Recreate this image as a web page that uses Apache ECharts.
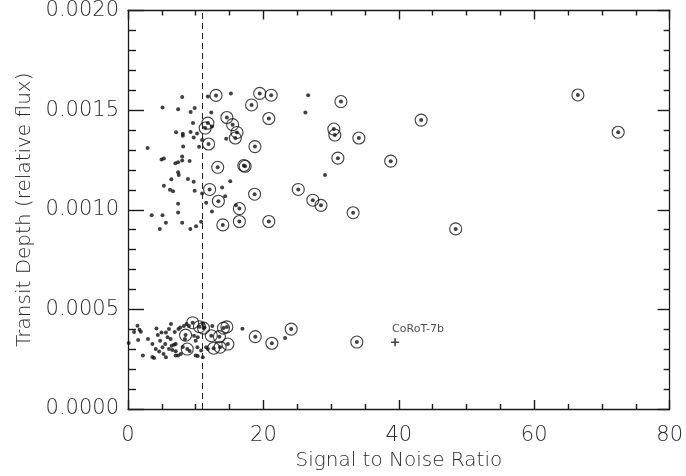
<!DOCTYPE html>
<html>
<head>
<meta charset="utf-8">
<script src="https://cdn.jsdelivr.net/npm/echarts@6/dist/echarts.min.js"></script>
<style>html,body{margin:0;padding:0;background:#fff}#c{width:686px;height:476px}</style>
</head>
<body>
<div id="c"></div>
<script>
// x: Signal to Noise Ratio, y: Transit Depth (relative flux)
const upperCandidates = [[2.9,0.00131],[3.5,0.000972],[4.7,0.000904],[5.1,0.001513],[4.95,0.001252],[5.3,0.001257],[5.1,0.000972],[5.3,0.00112],[5.6,0.000935],[6.2,0.0011],[6.65,0.001093],[6.4,0.001153],[7.0,0.001233],[7.4,0.001238],[7.1,0.001389],[7.4,0.001505],[7.4,0.001188],[7.5,0.001174],[7.4,0.00103],[7.4,0.000986],[8.0,0.001566],[8.1,0.001382],[8.1,0.001372],[8.0,0.001267],[8.0,0.001247],[8.15,0.001317],[8.0,0.000935],[9.1,0.001245],[9.25,0.00149],[9.85,0.001511],[9.25,0.00139],[9.7,0.001362],[10.2,0.001383],[9.6,0.001435],[8.85,0.001154],[9.7,0.001141],[9.85,0.001095],[9.2,0.000904],[10.05,0.000917],[10.8,0.00094],[10.5,0.001316],[10.95,0.00135],[10.95,0.001082],[11.8,0.001568],[15.2,0.001584],[12.3,0.001488],[12.4,0.001418],[14.5,0.001356],[15.1,0.001143],[13.9,0.001112],[14.35,0.001068],[11.55,0.001035],[15.95,0.001023],[12.4,0.000991],[26.6,0.001575],[26.2,0.001488],[29.1,0.001174]];
const lowerCandidates = [[0.1,0.000331],[1.4,0.000418],[1.7,0.000398],[1.9,0.000388],[1.5,0.000346],[2.2,0.000268],[3.6,0.000261],[3.85,0.000256],[4.2,0.000404],[4.75,0.000343],[5.1,0.00031],[5.5,0.000326],[4.6,0.000288],[5.25,0.000276],[5.6,0.000384],[6.05,0.000401],[5.85,0.00036],[6.3,0.000351],[6.45,0.000318],[6.8,0.000323],[7.05,0.000326],[6.05,0.000301],[6.55,0.000296],[7.05,0.00029],[7.05,0.000268],[7.4,0.000268],[7.8,0.000276],[7.45,0.000401],[7.7,0.000409],[8.25,0.000417],[8.65,0.000426],[9.0,0.000417],[6.35,0.000426],[5.6,0.00026],[4.1,0.000301],[3.6,0.000326],[9.75,0.000368],[10.0,0.000343],[10.25,0.00031],[10.0,0.000268],[10.3,0.000266],[11.05,0.000426],[11.3,0.000409],[12.45,0.000417],[16.9,0.000403],[23.2,0.000356],[11.55,0.00031],[11.8,0.000301],[11.05,0.00026],[10.8,0.000293],[10.3,0.00036],[4.95,0.000384],[0.9,0.000386],[2.95,0.000351],[4.4,0.000371],[8.4,0.000351],[9.1,0.000291],[8.1,0.000311],[6.9,0.000386]];
const upperDetections = [[13.0,0.001574],[19.45,0.001584],[21.15,0.001575],[18.25,0.001526],[31.45,0.001543],[14.6,0.001463],[20.8,0.001458],[43.3,0.00145],[11.8,0.001435],[11.4,0.00141],[15.45,0.001427],[30.4,0.001405],[30.55,0.001375],[16.1,0.001388],[15.85,0.00136],[34.1,0.00136],[11.9,0.00133],[18.75,0.001317],[31.0,0.001259],[38.8,0.001244],[13.25,0.001213],[17.1,0.001222],[17.3,0.001218],[25.15,0.001102],[12.05,0.001102],[18.7,0.001078],[13.35,0.001043],[27.3,0.001048],[28.5,0.001022],[16.45,0.001006],[33.25,0.000985],[16.45,0.000941],[20.8,0.000941],[14.0,0.000924],[48.4,0.000904],[66.45,0.001576],[72.4,0.001389]];
const lowerDetections = [[9.55,0.000433],[10.55,0.000413],[8.5,0.000371],[8.75,0.000301],[11.15,0.000406],[14.1,0.000406],[14.6,0.000412],[18.8,0.000363],[21.25,0.00033],[24.1,0.000401],[12.3,0.000368],[13.5,0.000363],[12.65,0.000305],[13.6,0.00031],[14.75,0.000326],[33.8,0.000336]];
const corot7b = [[39.45,0.000335]];
const corotName = 'CoRoT-7b';
const snrThreshold = 11;
const xTicks = {min:0, max:80, interval:20, minorSplit:4};
const yTicks = {min:0, max:0.002, interval:0.0005, minorSplit:5};

const FONT = 'DejaVu Sans';
const TXT = '#2a2a2a';
const AX = '#1a1a1a';
const candidates = upperCandidates.concat(lowerCandidates);
const detections = upperDetections.concat(lowerDetections);

function xAxisCfg(pos, labels){
  return {
    type:'value', position:pos, min:xTicks.min, max:xTicks.max, interval:xTicks.interval,
    axisLine:{show:true,onZero:false,lineStyle:{color:AX,width:1.3}},
    axisTick:{show:true,inside:true,length:9,lineStyle:{color:AX,width:1.4}},
    minorTick:{show:true,splitNumber:xTicks.minorSplit,length:5,lineStyle:{color:AX,width:1.4}},
    splitLine:{show:false}, minorSplitLine:{show:false},
    axisLabel:{show:labels,color:TXT,fontFamily:FONT,fontWeight:200,fontSize:21,margin:16},
    name: labels ? 'Signal to Noise Ratio' : '', nameLocation:'middle', nameGap:42,
    nameTextStyle:{color:TXT,fontFamily:FONT,fontWeight:200,fontSize:20}
  };
}
function yAxisCfg(pos, labels){
  return {
    type:'value', position:pos, min:yTicks.min, max:yTicks.max, interval:yTicks.interval,
    axisLine:{show:true,onZero:false,lineStyle:{color:AX,width:1.3}},
    axisTick:{show:true,inside:true,length:labels?16:12,lineStyle:{color:AX,width:1.4}},
    minorTick:{show:true,splitNumber:yTicks.minorSplit,length:labels?8:6,lineStyle:{color:AX,width:1.4}},
    splitLine:{show:false}, minorSplitLine:{show:false},
    axisLabel:{show:labels,color:TXT,fontFamily:FONT,fontWeight:200,fontSize:21,margin:9,
      formatter:v=>v.toFixed(4)},
    name: labels ? 'Transit Depth (relative flux)' : '', nameLocation:'middle', nameGap:84,
    nameTextStyle:{color:TXT,fontFamily:FONT,fontWeight:200,fontSize:20}
  };
}

const chart = echarts.init(document.getElementById('c'), null, {renderer:'canvas'});
chart.setOption({
  animation:false,
  backgroundColor:'#fff',
  grid:{left:128, right:13, top:9, bottom:65.5, containLabel:false},
  xAxis:[xAxisCfg('bottom',true), xAxisCfg('top',false)],
  yAxis:[yAxisCfg('left',true), yAxisCfg('right',false)],
  series:[
    {type:'scatter', data:candidates, symbol:'circle', symbolSize:4,
     itemStyle:{color:'#111'}, silent:true,
     markLine:{silent:true, symbol:['none','none'], label:{show:false},
       lineStyle:{color:'#222',width:1,type:[6,4]},
       data:[{xAxis:snrThreshold}]}},
    {type:'scatter', data:detections, symbol:'circle', symbolSize:12,
     itemStyle:{color:'rgba(0,0,0,0)',borderColor:'#111',borderWidth:1.1}, silent:true},
    {type:'scatter', data:detections, symbol:'circle', symbolSize:4,
     itemStyle:{color:'#111'}, silent:true},
    {type:'scatter', data:corot7b, symbol:'path://M4,0h2v4h4v2h-4v4h-2v-4h-4v-2h4z', symbolSize:8,
     itemStyle:{color:'#111'}, silent:true,
     label:{show:true, formatter:()=>corotName, position:[1,-9], align:'left', verticalAlign:'middle',
       color:'#222', fontFamily:FONT, fontSize:11}}
  ]
});
</script>
</body>
</html>
